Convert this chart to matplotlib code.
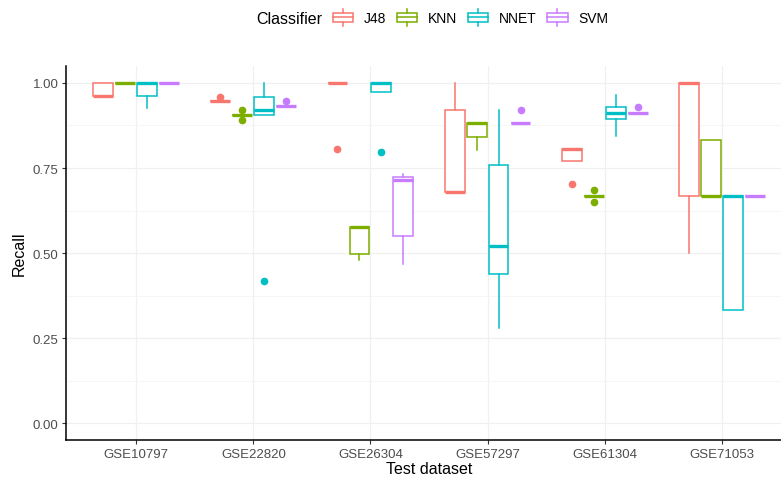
import matplotlib
matplotlib.use("Agg")
import matplotlib.pyplot as plt
from matplotlib.legend_handler import HandlerBase
from matplotlib.patches import Rectangle
from matplotlib.lines import Line2D

plt.rcParams['font.family'] = ['Liberation Sans', 'DejaVu Sans']

datasets = ["GSE10797", "GSE22820", "GSE26304", "GSE57297", "GSE61304", "GSE71053"]
classifiers = ["J48", "KNN", "NNET", "SVM"]
colors = ["#F8766D", "#7CAE00", "#00BFC4", "#C77CFF"]
yticks = [0.0, 0.25, 0.5, 0.75, 1.0]
ytick_labels = ["0.00", "0.25", "0.50", "0.75", "1.00"]

# (lower whisker, q1, median, q3, upper whisker) per dataset
j48_stats = [(0.963, 0.963, 0.963, 1.0, 1.0),
             (0.946, 0.946, 0.946, 0.946, 0.946),
             (1.0, 1.0, 1.0, 1.0, 1.0),
             (0.680, 0.680, 0.680, 0.920, 1.0),
             (0.772, 0.772, 0.807, 0.807, 0.807),
             (0.500, 0.667, 1.0, 1.0, 1.0)]
j48_out = [[], [0.960], [0.807], [], [0.702], []]

knn_stats = [(1.0, 1.0, 1.0, 1.0, 1.0),
             (0.906, 0.906, 0.906, 0.906, 0.906),
             (0.479, 0.496, 0.578, 0.578, 0.578),
             (0.802, 0.840, 0.881, 0.881, 0.881),
             (0.667, 0.667, 0.667, 0.667, 0.667),
             (0.667, 0.667, 0.667, 0.833, 0.833)]
knn_out = [[], [0.892, 0.919], [], [], [0.650, 0.684], []]

nnet_stats = [(0.927, 0.963, 1.0, 1.0, 1.0),
              (0.906, 0.906, 0.919, 0.959, 1.0),
              (0.973, 0.973, 1.0, 1.0, 1.0),
              (0.281, 0.440, 0.520, 0.760, 0.920),
              (0.843, 0.894, 0.913, 0.930, 0.964),
              (0.333, 0.333, 0.667, 0.667, 0.667)]
nnet_out = [[], [0.419], [0.798], [], [], []]

svm_stats = [(1.0, 1.0, 1.0, 1.0, 1.0),
             (0.933, 0.933, 0.933, 0.933, 0.933),
             (0.469, 0.550, 0.716, 0.724, 0.733),
             (0.881, 0.881, 0.881, 0.881, 0.881),
             (0.912, 0.912, 0.912, 0.912, 0.912),
             (0.667, 0.667, 0.667, 0.667, 0.667)]
svm_out = [[], [0.946], [], [0.920], [0.930], []]

all_stats = [j48_stats, knn_stats, nnet_stats, svm_stats]
all_out = [j48_out, knn_out, nnet_out, svm_out]

fig = plt.figure(figsize=(7.81, 4.81), dpi=100)
ax = fig.add_axes([66/781, 39.7/481, 726/781, 374.4/481])

slot = 0.1877
for k, (stats, outs, col) in enumerate(zip(all_stats, all_out, colors)):
    bxp_stats = []
    for s, o in zip(stats, outs):
        bxp_stats.append(dict(whislo=s[0], q1=s[1], med=s[2], q3=s[3], whishi=s[4], fliers=o))
    pos = [i + 1 + (k - 1.5) * slot for i in range(len(datasets))]
    ax.bxp(bxp_stats, positions=pos, widths=0.17, showcaps=False, patch_artist=True,
           boxprops=dict(facecolor='white', edgecolor=col, linewidth=1.1),
           medianprops=dict(color=col, linewidth=2.4, solid_capstyle='butt'),
           whiskerprops=dict(color=col, linewidth=1.1),
           flierprops=dict(marker='o', markerfacecolor=col, markeredgecolor=col,
                           markersize=4.5, linestyle='none'),
           manage_ticks=False, zorder=3)

ax.set_xlim(0.4, 6.6)
ax.set_ylim(-0.05, 1.05)
ax.set_xticks(range(1, len(datasets) + 1))
ax.set_xticklabels(datasets)
ax.set_yticks(yticks)
ax.set_yticklabels(ytick_labels)
ax.set_yticks([0.125, 0.375, 0.625, 0.875], minor=True)
ax.grid(True, which='major', color='#F0F0F0', linewidth=0.9, zorder=0)
ax.grid(True, which='minor', axis='y', color='#F5F5F5', linewidth=0.6, zorder=0)
ax.tick_params(axis='y', which='minor', length=0)
ax.tick_params(which='major', length=3, width=0.8, color='#333333',
               labelcolor='#4D4D4D', labelsize=9.5, pad=2.5)
for side in ['top', 'right']:
    ax.spines[side].set_visible(False)
for side in ['left', 'bottom']:
    ax.spines[side].set_linewidth(1.1)
ax.set_axisbelow(True)
ax.set_xlabel("Test dataset", fontsize=11.5, labelpad=1)
ax.set_ylabel("Recall", fontsize=11.5, labelpad=4)


class BoxKey(HandlerBase):
    # boxplot glyph: box, median line and two whisker stubs
    def create_artists(self, legend, orig, xd, yd, w, h, fontsize, trans):
        c = orig.get_edgecolor()
        x0, y0 = -xd, -yd
        box = Rectangle((x0, y0 + h * 0.1), w, h * 0.8, facecolor='white',
                        edgecolor=c, linewidth=1.1, transform=trans)
        med = Line2D([x0, x0 + w], [y0 + h * 0.5] * 2, color=c, linewidth=1.1, transform=trans)
        wlo = Line2D([x0 + w / 2] * 2, [y0 - h * 0.25, y0 + h * 0.1], color=c, linewidth=1.1, transform=trans)
        whi = Line2D([x0 + w / 2] * 2, [y0 + h * 0.9, y0 + h * 1.25], color=c, linewidth=1.1, transform=trans)
        return [box, med, wlo, whi]


handles = [Rectangle((0, 0), 1, 1, edgecolor=c, facecolor='white') for c in colors]
fig.text(256/781, 1 - 19/481, "Classifier", fontsize=11.5, va='center', ha='left')
fig.legend(handles, classifiers, handler_map={Rectangle: BoxKey()},
           loc='center left', bbox_to_anchor=(333/781, 1 - 19/481), ncol=4,
           frameon=False, fontsize=10, borderpad=0, borderaxespad=0,
           handlelength=1.45, handleheight=0.9, handletextpad=0.8, columnspacing=0.75)

fig.savefig("out.png", dpi=100)
